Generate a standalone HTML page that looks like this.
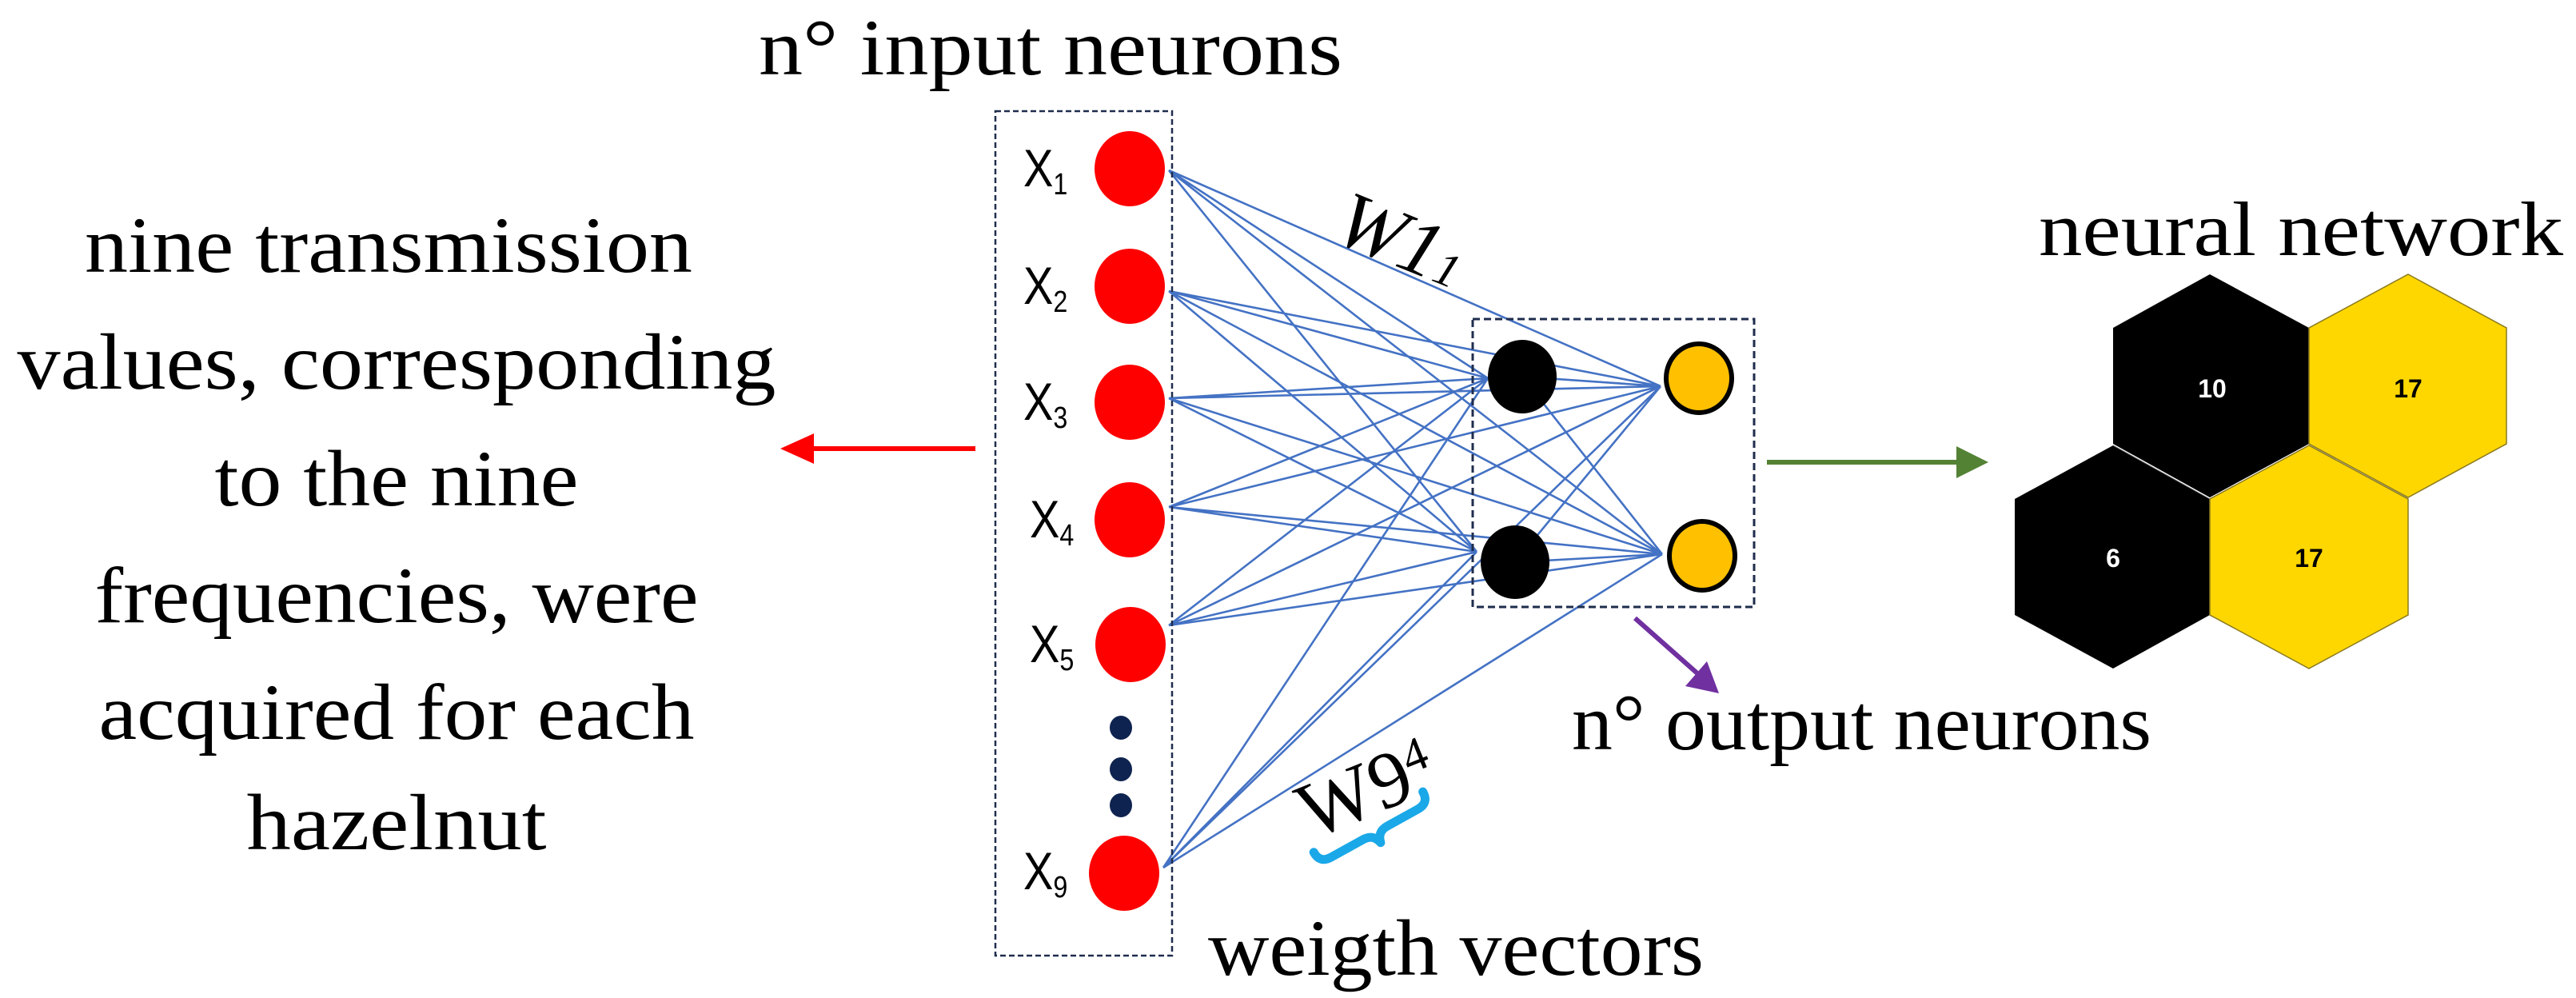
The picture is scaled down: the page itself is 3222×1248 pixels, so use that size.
<!DOCTYPE html>
<html><head><meta charset="utf-8"><style>
html,body{margin:0;padding:0;background:#fff;}
svg{display:block;}
.serif{font-family:"Liberation Serif","DejaVu Serif",serif;}
.sans{font-family:"Liberation Sans","DejaVu Sans",sans-serif;}
</style></head><body>
<svg width="3222" height="1248" viewBox="0 0 3222 1248" xmlns="http://www.w3.org/2000/svg">
<rect width="3222" height="1248" fill="#fff"/>
<g class="serif" font-size="100" fill="#000" text-anchor="middle">
<text x="486" y="340" textLength="760" lengthAdjust="spacingAndGlyphs">nine transmission</text>
<text x="496" y="486" textLength="949" lengthAdjust="spacingAndGlyphs">values, corresponding</text>
<text x="496" y="632" textLength="455" lengthAdjust="spacingAndGlyphs">to the nine</text>
<text x="496" y="778" textLength="755" lengthAdjust="spacingAndGlyphs">frequencies, were</text>
<text x="496" y="924" textLength="745" lengthAdjust="spacingAndGlyphs">acquired for each</text>
<text x="496" y="1062" textLength="375" lengthAdjust="spacingAndGlyphs">hazelnut</text>
</g>
<text class="serif" x="949" y="93" font-size="100" textLength="730" lengthAdjust="spacingAndGlyphs">n° input neurons</text>
<line x1="1220" y1="561" x2="1000" y2="561" stroke="#f00" stroke-width="6"/>
<polygon points="976,561 1018,542 1018,580" fill="#f00"/>
<g stroke="#4472C4" stroke-width="2.6" fill="none">
<path d="M1462,213L1861,473M1462,213L1847,690M1462,213L2077,483M1462,213L2079,693
M1462,364L1861,473M1462,364L1847,690M1462,364L2077,483M1462,364L2079,693
M1462,498L1861,473M1462,498L1847,690M1462,498L2077,483M1462,498L2079,693
M1462,634L1861,473M1462,634L1847,690M1462,634L2077,483M1462,634L2079,693
M1462,782L1861,473M1462,782L1847,690M1462,782L2077,483M1462,782L2079,693
M1455,1085L1861,473M1455,1085L1847,690M1455,1085L2077,483M1455,1085L2079,693
M1904,471L2077,483M1904,471L2079,693M1895,703L2077,483M1895,703L2079,693"/>
</g>
<rect x="1245" y="139" width="221" height="1056" fill="none" stroke="#1f2d4d" stroke-width="2.5" stroke-dasharray="7,4"/>
<rect x="1842" y="399" width="352" height="360" fill="none" stroke="#1f2d4d" stroke-width="3" stroke-dasharray="9,5"/>
<g fill="#f00">
<ellipse cx="1413" cy="211" rx="44" ry="47"/>
<ellipse cx="1413" cy="358" rx="44" ry="47"/>
<ellipse cx="1413" cy="503" rx="44" ry="47"/>
<ellipse cx="1413" cy="650" rx="44" ry="47"/>
<ellipse cx="1414" cy="806" rx="44" ry="47"/>
<ellipse cx="1406" cy="1092" rx="44" ry="47"/>
</g>
<g fill="#0f2350">
<ellipse cx="1402" cy="910" rx="14" ry="15"/>
<ellipse cx="1402" cy="962" rx="14" ry="15"/>
<ellipse cx="1402" cy="1007" rx="14" ry="15"/>
</g>
<g class="sans" font-size="66" fill="#000">
<g transform="translate(1280,233) scale(0.85,1)"><text>X<tspan font-size="38" dy="10">1</tspan></text></g>
<g transform="translate(1280,380) scale(0.85,1)"><text>X<tspan font-size="38" dy="10">2</tspan></text></g>
<g transform="translate(1280,525) scale(0.85,1)"><text>X<tspan font-size="38" dy="10">3</tspan></text></g>
<g transform="translate(1288,672) scale(0.85,1)"><text>X<tspan font-size="38" dy="10">4</tspan></text></g>
<g transform="translate(1288,828) scale(0.85,1)"><text>X<tspan font-size="38" dy="10">5</tspan></text></g>
<g transform="translate(1280,1112) scale(0.85,1)"><text>X<tspan font-size="38" dy="10">9</tspan></text></g>
</g>
<ellipse cx="1904" cy="471" rx="43" ry="46" fill="#000"/>
<ellipse cx="1895" cy="703" rx="43" ry="46" fill="#000"/>
<ellipse cx="2125" cy="473" rx="41" ry="43" fill="#FFC000" stroke="#000" stroke-width="6"/>
<ellipse cx="2129" cy="695" rx="41" ry="43" fill="#FFC000" stroke="#000" stroke-width="6"/>
<text class="serif" font-style="italic" font-size="100" transform="translate(1665,300) rotate(22)">W1<tspan font-size="60">1</tspan></text>
<text class="serif" font-size="100" transform="translate(1640,1050) rotate(-22)">W9<tspan font-size="60" dy="-30">4</tspan></text>
<g transform="translate(1650,1078) rotate(-29)">
<path d="M0,-14 Q0,2 16,2 L62,2 Q76,2 79,16 Q82,2 96,2 L140,2 Q156,2 156,-14" fill="none" stroke="#1AA8E8" stroke-width="11" stroke-linecap="round" stroke-linejoin="round"/>
</g>
<text class="serif" x="1511" y="1219" font-size="100" textLength="620" lengthAdjust="spacingAndGlyphs">weigth vectors</text>
<line x1="2045" y1="773" x2="2132" y2="850" stroke="#7030A0" stroke-width="6"/>
<polygon points="2150,867 2108,858 2135,827" fill="#7030A0"/>
<text class="serif" x="1966" y="937" font-size="100" textLength="725" lengthAdjust="spacingAndGlyphs">n° output neurons</text>
<line x1="2210" y1="578" x2="2455" y2="578" stroke="#548235" stroke-width="6"/>
<polygon points="2487,578 2447,558 2447,598" fill="#548235"/>
<text class="serif" x="2550" y="319" font-size="96" textLength="656" lengthAdjust="spacingAndGlyphs">neural network</text>
<polygon points="2764,343 2888,410 2888,555 2764,622 2643,555 2643,410" fill="#000"/>
<polygon points="3012,343 3135,410 3135,555 3012,622 2888,555 2888,410" fill="#FFD700" stroke="#8a7a20" stroke-width="1.5"/>
<polygon points="2643,557 2764,624 2764,769 2643,836 2520,769 2520,624" fill="#000"/>
<polygon points="2888,557 3012,624 3012,769 2888,836 2764,769 2764,624" fill="#FFD700" stroke="#8a7a20" stroke-width="1.5"/>
<line x1="2643" y1="557" x2="2764" y2="624" stroke="#666" stroke-width="1"/>
<g class="sans" font-weight="bold" font-size="32" text-anchor="middle">
<text x="2767" y="497" fill="#fff">10</text>
<text x="3012" y="497" fill="#000">17</text>
<text x="2643" y="709" fill="#fff">6</text>
<text x="2888" y="709" fill="#000">17</text>
</g>
</svg>
</body></html>
